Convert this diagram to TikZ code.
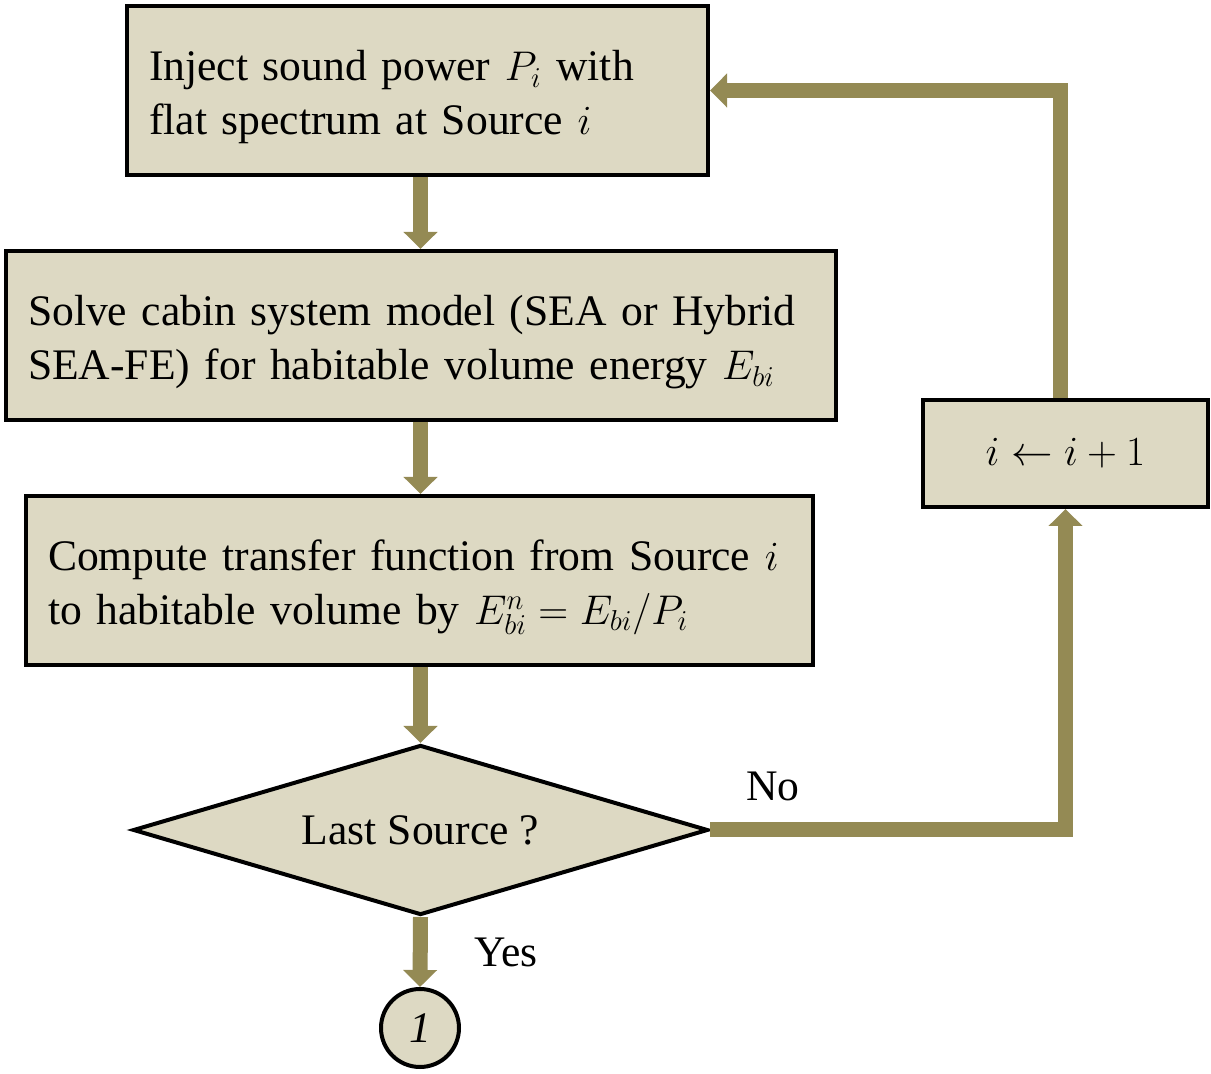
\documentclass[tikz,border=0pt]{standalone}
\usepackage{fontspec}
\setmainfont{Liberation Serif}
\usetikzlibrary{shapes.geometric,arrows.meta}
\definecolor{boxfill}{RGB}{221,217,195}
\definecolor{flowcol}{RGB}{148,138,84}
\begin{document}
\begin{tikzpicture}[x=0.5pt,y=-0.5pt,
  every node/.style={font=\rmfamily\fontsize{21.8pt}{27pt}\selectfont},
  procbox/.style={draw=black,line width=2pt,fill=boxfill,rectangle,inner xsep=11pt,inner ysep=0pt,align=left},
  lowtext/.style={execute at begin node={\rule{0pt}{22pt}}},
  decbox/.style={draw=black,line width=2pt,fill=boxfill,diamond,inner sep=0pt,aspect=3.38,minimum width=287.5pt,minimum height=85pt},
  conn/.style={draw=black,line width=2pt,fill=boxfill,circle,inner sep=0pt,minimum size=39pt},
  flow/.style={draw=flowcol,line width=7.5pt,line join=miter,-{Triangle[width=16.5pt,length=8.5pt]}},
  lbl/.style={inner sep=0pt}]
\useasboundingbox (0,0) rectangle (1211,1074);
\node[procbox,lowtext,minimum width=290.5pt,minimum height=84.5pt,text width=268.5pt] (b1) at (417.5,90.5)
  {Inject sound power $P_i$ with\\flat spectrum at Source $i$};
\node[procbox,lowtext,minimum width=415pt,minimum height=84.5pt,text width=393pt] (b2) at (421,335.5)
  {Solve cabin system model (SEA or Hybrid\\SEA-FE) for habitable volume energy $E_{bi}$};
\node[procbox,lowtext,minimum width=393.5pt,minimum height=84.5pt,text width=371.5pt] (b3) at (419.5,580.5)
  {Compute transfer function from Source $i$\\to habitable volume by $E_{bi}^{n}=E_{bi}/P_i$};
\node[decbox] (d) at (420.5,830) {Last Source ?};
\node[conn] (c) at (420,1028) {\textit{1}};
\node[procbox,minimum width=142.5pt,minimum height=53.5pt,align=center] (b4) at (1065.5,453.5) {$i\leftarrow i+1$};
\node[lbl] (no) at (773,786) {No};
\node[lbl] (yes) at (506,952) {Yes};
\draw[flow] (d.north |- b1.south) -- (d.north |- b2.north);
\draw[flow] (d.north |- b2.south) -- (d.north |- b3.north);
\draw[flow] (d.north |- b3.south) -- (d.north);
\draw[flow] (d.south) -- (c.north);
\draw[flow] (d.east) -| (b4.south);
\draw[flow] ([xshift=-2.5pt]b4.north) |- (b1.east);
\end{tikzpicture}
\end{document}
